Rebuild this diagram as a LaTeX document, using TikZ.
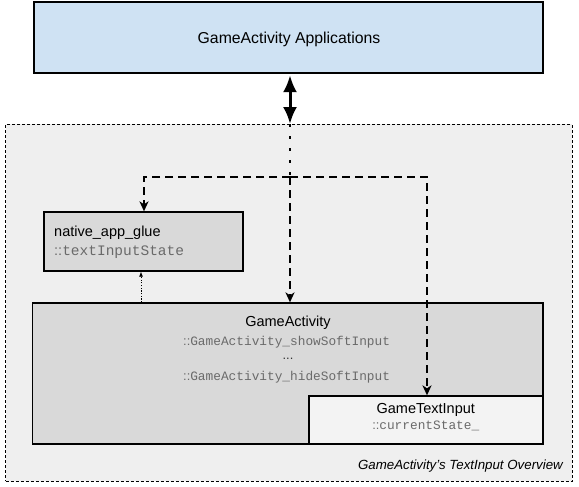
\documentclass[tikz,border=0pt]{standalone}
\usepackage{fontspec}
\setmainfont{Liberation Sans}
\setsansfont{Liberation Sans}
\setmonofont{Liberation Mono}
\usetikzlibrary{arrows.meta}
\definecolor{appblue}{HTML}{CFE2F3}
\definecolor{boxgray}{HTML}{D9D9D9}
\definecolor{outergray}{HTML}{EFEFEF}
\definecolor{gtigray}{HTML}{F3F3F3}
\definecolor{monogray}{HTML}{6A6A6A}
\tikzset{
  box/.style={draw=black, line width=1.3pt, inner sep=0pt, rectangle},
  outerbox/.style={draw=black, fill=outergray, line width=0.9pt, dash pattern=on 3pt off 2pt, inner sep=0pt, rectangle},
  sanstext/.style={inner sep=0pt, font=\fontsize{14.5}{17}\selectfont, text=black},
  monotext/.style={inner sep=0pt, font=\fontsize{12.8}{15}\selectfont\ttfamily, text=monogray},
  dbl/.style={line width=3pt, {Latex[length=17pt,width=14pt]}-{Latex[length=17pt,width=14pt]}, shorten <=1.5pt},
  dotline/.style={line width=2.6pt, dash pattern=on 2.6pt off 9.4pt},
  dasharrow/.style={line width=2pt, dash pattern=on 8pt off 5pt, -{Stealth[length=10pt,width=9pt,inset=3pt]}},
  thinarrow/.style={line width=0.8pt, dash pattern=on 1.2pt off 1.5pt, -{Latex[length=5pt,width=4pt]}},
}
\begin{document}
\begin{tikzpicture}[x=1pt,y=-1pt]
\useasboundingbox (0,0) rectangle (579,487);
% outer container
\node[outerbox, minimum width=566.5pt, minimum height=356.5pt] (outer) at (288.75,302.75) {};
% top application box
\node[box, fill=appblue, minimum width=509pt, minimum height=71pt] (app) at (288.5,37.5) {};
\node[sanstext, font=\fontsize{15.8}{18}\selectfont] (appt) at (289,39) {GameActivity Applications};
% native_app_glue
\node[box, fill=boxgray, minimum width=199pt, minimum height=59pt] (glue) at (143.5,241.5) {};
\node[sanstext, anchor=west] (glue1) at (54,233) {native\_app\_glue};
\node[monotext, anchor=west, font=\fontsize{14.5}{17}\selectfont\ttfamily] (glue2) at (54,252) {{\sffamily ::}textInputState};
% GameActivity
\node[box, fill=boxgray, minimum width=510.5pt, minimum height=141pt] (ga) at (287.75,373.5) {};
\node[sanstext] (ga1) at (288,323) {GameActivity};
\node[monotext, anchor=west] (ga2) at (183,342) {{\sffamily ::}GameActivity\_showSoftInput};
\node[sanstext, font=\fontsize{12.8}{15}\selectfont, text=black!80] (gadots) at (288,359) {...};
\node[monotext, anchor=west] (ga3) at (183,377) {{\sffamily ::}GameActivity\_hideSoftInput};
% GameTextInput
\node[box, fill=gtigray, minimum width=233.5pt, minimum height=48pt] (gti) at (425.75,420) {};
\node[sanstext] (gti1) at (425.75,410) {GameTextInput};
\node[monotext] (gti2) at (425.75,426) {{\sffamily ::}currentState\_};
% caption
\node[inner sep=0pt, anchor=base east, font=\fontsize{13.3}{16}\selectfont\itshape] (cap) at (563,469) {GameActivity’s TextInput Overview};
% connectors
\coordinate (j) at (290,177);
\draw[dbl] (app.south -| j) -- (outer.north -| j);
\draw[dotline] (outer.north -| j) -- (j);
\draw[dasharrow] (j) -| ([xshift=0.5pt]glue.north);
\draw[dasharrow] (j) -| ([xshift=1.25pt]gti.north);
\draw[dasharrow] (j) -- (ga.north -| j);
\draw[thinarrow] ([xshift=-2.5pt]glue.south |- ga.north) -- ([xshift=-2.5pt]glue.south);
\end{tikzpicture}
\end{document}
